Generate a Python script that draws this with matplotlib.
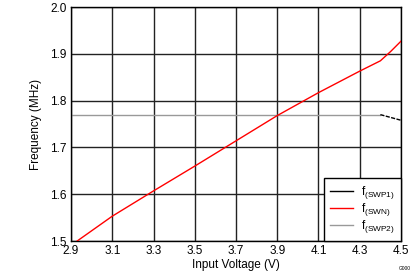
import matplotlib
matplotlib.use("Agg")
import matplotlib.pyplot as plt
from matplotlib.lines import Line2D

plt.rcParams['font.family'] = ['Liberation Sans', 'DejaVu Sans']
plt.rcParams['mathtext.fontset'] = 'custom'
plt.rcParams['mathtext.rm'] = 'Liberation Sans'

# Data
swn_v = [2.93, 3.1, 3.3, 3.5, 3.7, 3.9, 4.1, 4.3, 4.4, 4.45, 4.5]
swn_f = [1.5, 1.553, 1.607, 1.66, 1.714, 1.768, 1.817, 1.863, 1.885, 1.905, 1.927]
swp2_v = [2.9, 4.4]
swp2_f = [1.770, 1.770]
swp1_v = [4.4, 4.5]
swp1_f = [1.770, 1.758]

xticks = [2.9, 3.1, 3.3, 3.5, 3.7, 3.9, 4.1, 4.3, 4.5]
yticks = [1.5, 1.6, 1.7, 1.8, 1.9, 2.0]
labels = [r'f$_{\mathregular{(SWP1)}}$', r'f$_{\mathregular{(SWN)}}$', r'f$_{\mathregular{(SWP2)}}$']
colors = ['black', 'red', '#999999']

fig = plt.figure(figsize=(4.19, 2.79), dpi=100)
ax = fig.add_axes([71/419, 1-241/279, 330/419, 234/279])

for x in xticks:
    ax.axvline(x, color='#222222', lw=1.0, zorder=1)
for y in yticks:
    ax.axhline(y, color='#222222', lw=1.0, zorder=1)

ax.plot(swp1_v, swp1_f, color=colors[0], lw=1.0, ls=(0, (3, 1)), zorder=3)
ax.plot(swn_v, swn_f, color=colors[1], lw=1.0, zorder=3)
ax.plot(swp2_v, swp2_f, color=colors[2], lw=1.0, zorder=2)

ax.set_xlim(2.9, 4.5)
ax.set_ylim(1.5, 2.0)
ax.set_xticks(xticks)
ax.set_yticks(yticks)
ax.set_xticklabels([f"{v:.1f}" for v in xticks])
ax.set_yticklabels([f"{v:.1f}" for v in yticks])
ax.tick_params(axis='both', length=0, labelsize=8.5, pad=3)
for s in ax.spines.values():
    s.set_color('black')
    s.set_linewidth(1.0)

ax.set_xlabel('Input Voltage (V)', fontsize=8.5, labelpad=1)
ax.set_ylabel('Frequency (MHz)', fontsize=8.5, labelpad=6)

handles = [Line2D([], [], color=c, lw=1.0) for c in colors]
leg = ax.legend(handles, labels, loc='lower right', fontsize=8.5, frameon=True, fancybox=False,
                borderaxespad=0, handlelength=2.0, handletextpad=0.7,
                labelspacing=0.0, borderpad=0.5, framealpha=1)
leg.get_frame().set_edgecolor('black')
leg.get_frame().set_linewidth(1.0)
leg.set_zorder(5)

fig.text(405/419, 1-268/279, 'G000', fontsize=3.5, ha='center', va='center')

fig.savefig('out.png', dpi=100)
